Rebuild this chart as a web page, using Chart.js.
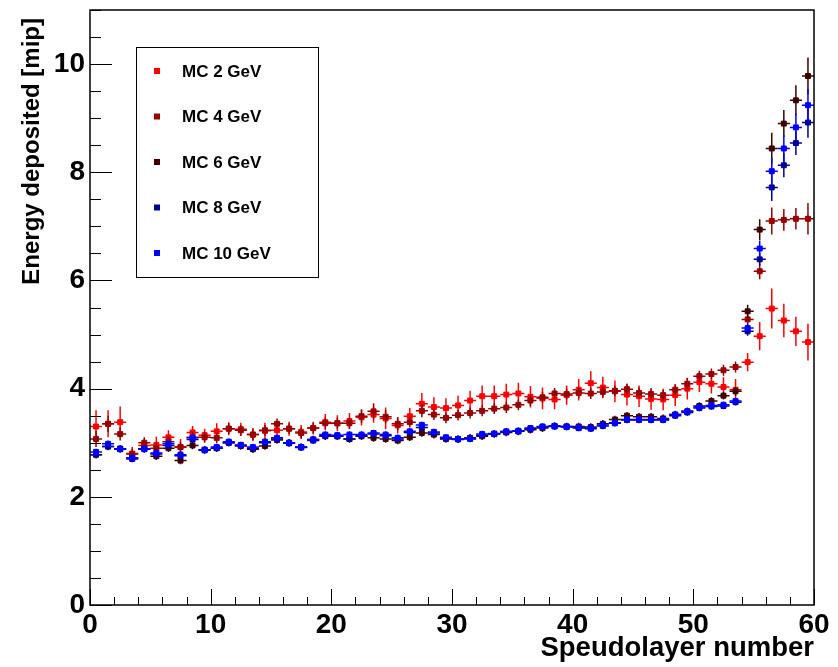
<!DOCTYPE html>
<html>
<head>
<meta charset="utf-8">
<script src="https://cdn.jsdelivr.net/npm/chart.js@4.4.1/dist/chart.umd.min.js"></script>
<style>
  html, body { margin: 0; padding: 0; background: #fff; }
</style>
</head>
<body>
<canvas id="grafico" width="838" height="667"></canvas>
<script>
// centros das camadas (bins de largura 1)
const layers = [0.5, 1.5, 2.5, 3.5, 4.5, 5.5, 6.5, 7.5, 8.5, 9.5,
  10.5, 11.5, 12.5, 13.5, 14.5, 15.5, 16.5, 17.5, 18.5, 19.5,
  20.5, 21.5, 22.5, 23.5, 24.5, 25.5, 26.5, 27.5, 28.5, 29.5,
  30.5, 31.5, 32.5, 33.5, 34.5, 35.5, 36.5, 37.5, 38.5, 39.5,
  40.5, 41.5, 42.5, 43.5, 44.5, 45.5, 46.5, 47.5, 48.5, 49.5,
  50.5, 51.5, 52.5, 53.5, 54.5, 55.5, 56.5, 57.5, 58.5, 59.5];

const seriesNames = ['MC 2 GeV', 'MC 4 GeV', 'MC 6 GeV', 'MC 8 GeV', 'MC 10 GeV'];
const seriesColors = ['#ff0000', '#990000', '#400000', '#000099', '#0000ff'];

const mc2 = [3.30, 3.35, 3.38, 2.80, 2.95, 2.96, 3.10, 2.92, 3.19, 3.14,
  3.21, 3.26, 3.25, 3.15, 3.22, 3.23, 3.26, 3.20, 3.27, 3.38,
  3.36, 3.40, 3.47, 3.52, 3.45, 3.32, 3.49, 3.72, 3.66, 3.64,
  3.69, 3.78, 3.86, 3.86, 3.89, 3.91, 3.85, 3.82, 3.80, 3.88,
  3.98, 4.10, 4.02, 3.95, 3.89, 3.86, 3.81, 3.80, 3.88, 4.00,
  4.12, 4.09, 4.03, 3.98, 4.49, 4.97, 5.48, 5.26, 5.06, 4.86];
const mc4 = [3.07, 3.35, 3.16, 2.79, 3.00, 2.90, 3.02, 2.92, 3.10, 3.10,
  3.09, 3.26, 3.23, 3.15, 3.23, 3.35, 3.26, 3.18, 3.27, 3.36,
  3.36, 3.36, 3.49, 3.58, 3.48, 3.35, 3.38, 3.59, 3.52, 3.46,
  3.51, 3.55, 3.59, 3.63, 3.65, 3.70, 3.78, 3.84, 3.91, 3.90,
  3.92, 3.91, 3.94, 3.96, 3.99, 3.92, 3.90, 3.88, 3.98, 4.09,
  4.23, 4.27, 4.34, 4.40, 5.28, 6.17, 7.10, 7.12, 7.14, 7.14];
const mc6 = [2.78, 2.93, 2.89, 2.72, 2.89, 2.75, 2.90, 2.67, 2.95, 2.87,
  2.90, 3.00, 2.94, 2.88, 2.94, 3.05, 3.00, 2.92, 3.06, 3.12,
  3.12, 3.07, 3.12, 3.09, 3.07, 3.04, 3.10, 3.18, 3.15, 3.07,
  3.07, 3.09, 3.12, 3.16, 3.19, 3.21, 3.24, 3.27, 3.31, 3.30,
  3.30, 3.29, 3.35, 3.43, 3.50, 3.48, 3.48, 3.45, 3.52, 3.58,
  3.68, 3.77, 3.87, 3.95, 5.43, 6.94, 8.44, 8.90, 9.33, 9.78];
const mc8 = [2.78, 2.93, 2.88, 2.70, 2.88, 2.79, 2.95, 2.76, 3.06, 2.86,
  2.90, 3.00, 2.95, 2.90, 3.00, 3.07, 2.99, 2.91, 3.04, 3.13,
  3.12, 3.07, 3.13, 3.16, 3.13, 3.07, 3.19, 3.28, 3.18, 3.08,
  3.06, 3.07, 3.14, 3.16, 3.20, 3.21, 3.26, 3.29, 3.30, 3.29,
  3.27, 3.26, 3.31, 3.36, 3.42, 3.42, 3.42, 3.42, 3.50, 3.56,
  3.64, 3.67, 3.68, 3.75, 5.06, 6.39, 7.72, 8.13, 8.54, 8.92];
const mc10 = [2.83, 2.98, 2.89, 2.72, 2.89, 2.81, 2.98, 2.78, 3.09, 2.87,
  2.92, 3.02, 2.96, 2.92, 3.02, 3.09, 3.00, 2.92, 3.06, 3.15,
  3.14, 3.15, 3.15, 3.18, 3.15, 3.09, 3.21, 3.33, 3.20, 3.10,
  3.07, 3.08, 3.16, 3.17, 3.21, 3.22, 3.27, 3.30, 3.31, 3.30,
  3.28, 3.27, 3.33, 3.37, 3.43, 3.43, 3.43, 3.43, 3.52, 3.58,
  3.66, 3.69, 3.70, 3.77, 5.12, 6.59, 8.02, 8.44, 8.83, 9.24];

// erros (metade da barra vertical)
const err2 = [0.30, 0.25, 0.29, 0.12, 0.12, 0.15, 0.13, 0.15, 0.12, 0.12,
  0.15, 0.12, 0.12, 0.12, 0.15, 0.13, 0.13, 0.13, 0.12, 0.15,
  0.15, 0.15, 0.15, 0.15, 0.20, 0.15, 0.15, 0.20, 0.18, 0.18,
  0.18, 0.18, 0.20, 0.20, 0.20, 0.20, 0.20, 0.20, 0.18, 0.18,
  0.20, 0.22, 0.20, 0.20, 0.20, 0.20, 0.20, 0.20, 0.20, 0.20,
  0.18, 0.18, 0.18, 0.20, 0.17, 0.26, 0.37, 0.31, 0.27, 0.34];
const err4 = [0.15, 0.15, 0.12, 0.10, 0.10, 0.10, 0.10, 0.10, 0.10, 0.10,
  0.10, 0.10, 0.10, 0.10, 0.10, 0.10, 0.10, 0.10, 0.10, 0.10,
  0.10, 0.10, 0.12, 0.15, 0.12, 0.12, 0.10, 0.12, 0.10, 0.10,
  0.10, 0.10, 0.10, 0.10, 0.10, 0.10, 0.10, 0.10, 0.10, 0.10,
  0.10, 0.10, 0.10, 0.10, 0.10, 0.10, 0.10, 0.10, 0.10, 0.10,
  0.10, 0.10, 0.10, 0.10, 0.10, 0.15, 0.25, 0.20, 0.20, 0.29];
const err6 = [0.07, 0.07, 0.07, 0.07, 0.07, 0.07, 0.07, 0.07, 0.07, 0.07,
  0.07, 0.07, 0.07, 0.07, 0.07, 0.07, 0.07, 0.07, 0.07, 0.07,
  0.07, 0.07, 0.07, 0.07, 0.07, 0.07, 0.07, 0.07, 0.07, 0.07,
  0.07, 0.07, 0.07, 0.07, 0.07, 0.07, 0.07, 0.07, 0.07, 0.07,
  0.07, 0.07, 0.07, 0.07, 0.07, 0.07, 0.07, 0.07, 0.07, 0.07,
  0.07, 0.07, 0.07, 0.08, 0.12, 0.19, 0.29, 0.25, 0.28, 0.34];
const err8 = [0.06, 0.06, 0.06, 0.06, 0.06, 0.06, 0.06, 0.06, 0.06, 0.06,
  0.06, 0.06, 0.06, 0.06, 0.06, 0.06, 0.06, 0.06, 0.06, 0.06,
  0.06, 0.06, 0.06, 0.06, 0.06, 0.06, 0.06, 0.06, 0.06, 0.06,
  0.06, 0.06, 0.06, 0.06, 0.06, 0.06, 0.06, 0.06, 0.06, 0.06,
  0.06, 0.06, 0.06, 0.06, 0.06, 0.06, 0.06, 0.06, 0.06, 0.06,
  0.06, 0.06, 0.06, 0.06, 0.08, 0.12, 0.25, 0.22, 0.22, 0.28];
const err10 = [0.06, 0.06, 0.06, 0.06, 0.06, 0.06, 0.06, 0.06, 0.06, 0.06,
  0.06, 0.06, 0.06, 0.06, 0.06, 0.06, 0.06, 0.06, 0.06, 0.06,
  0.06, 0.06, 0.06, 0.06, 0.06, 0.06, 0.06, 0.06, 0.06, 0.06,
  0.06, 0.06, 0.06, 0.06, 0.06, 0.06, 0.06, 0.06, 0.06, 0.06,
  0.06, 0.06, 0.06, 0.06, 0.06, 0.06, 0.06, 0.06, 0.06, 0.06,
  0.06, 0.06, 0.06, 0.06, 0.08, 0.15, 0.25, 0.25, 0.25, 0.30];

const xTicks = [0, 10, 20, 30, 40, 50, 60];
const yTicks = [0, 2, 4, 6, 8, 10];
const yTitle = 'Energy deposited [mip]';

const allValues = [mc2, mc4, mc6, mc8, mc10];
const allErrors = [err2, err4, err6, err8, err10];

const FONT = "'Liberation Sans', Arial, Helvetica, sans-serif";

// barras de erro desenhadas antes dos marcadores de cada serie
const errorBars = {
  id: 'errorBars',
  beforeDatasetDraw(chart, args) {
    const ds = chart.data.datasets[args.index];
    const xs = chart.scales.x;
    const ys = chart.scales.y;
    const ctx = chart.ctx;
    ctx.save();
    ctx.strokeStyle = ds.borderColor;
    ctx.lineWidth = 1.5;
    ctx.beginPath();
    ds.data.forEach((p, i) => {
      const e = ds.errors[i];
      const px = xs.getPixelForValue(p.x);
      const py = ys.getPixelForValue(p.y);
      ctx.moveTo(px, ys.getPixelForValue(p.y - e));
      ctx.lineTo(px, ys.getPixelForValue(p.y + e));
      ctx.moveTo(xs.getPixelForValue(p.x - 0.5), py);
      ctx.lineTo(xs.getPixelForValue(p.x + 0.5), py);
    });
    ctx.stroke();
    ctx.restore();
  }
};

// moldura e ticks para dentro, estilo ROOT
const frame = {
  id: 'frame',
  afterDatasetsDraw(chart) {
    const { ctx, chartArea: a } = chart;
    const xs = chart.scales.x;
    const ys = chart.scales.y;
    ctx.save();
    ctx.strokeStyle = '#000';
    ctx.lineWidth = 1.5;
    ctx.strokeRect(a.left, a.top, a.right - a.left, a.bottom - a.top);
    ctx.lineWidth = 1;
    ctx.beginPath();
    for (let v = 0; v <= 60; v += 2) {
      const px = Math.round(xs.getPixelForValue(v)) + 0.5;
      const len = v % 10 === 0 ? 16 : 8;
      ctx.moveTo(px, a.bottom);
      ctx.lineTo(px, a.bottom - len);
    }
    for (let v = 0; v <= 11; v += 0.5) {
      const py = Math.round(ys.getPixelForValue(v)) + 0.5;
      const len = v % 2 === 0 ? 22 : 11;
      ctx.moveTo(a.left, py);
      ctx.lineTo(a.left + len, py);
    }
    ctx.stroke();

    // titulo do eixo y, alinhado no topo como no ROOT
    ctx.fillStyle = '#000';
    ctx.font = `bold 24px ${FONT}`;
    ctx.textAlign = 'right';
    ctx.textBaseline = 'middle';
    ctx.translate(32, a.top + 8);
    ctx.rotate(-Math.PI / 2);
    ctx.fillText(yTitle, 0, 0);
    ctx.restore();
  }
};

const legendBox = {
  id: 'legendBox',
  afterDraw(chart) {
    const ctx = chart.ctx;
    ctx.save();
    ctx.strokeStyle = '#000';
    ctx.lineWidth = 1;
    ctx.strokeRect(136.5, 47.5, 182, 230);
    ctx.font = `bold 17px ${FONT}`;
    ctx.textBaseline = 'middle';
    seriesNames.forEach((nome, i) => {
      const y = 71 + i * 45.5;
      ctx.fillStyle = seriesColors[i];
      ctx.fillRect(154, y - 3, 6, 6);
      ctx.fillStyle = '#000';
      ctx.fillText(nome, 182, y + 1);
    });
    ctx.restore();
  }
};

const datasets = seriesNames.map((nome, i) => ({
  label: nome,
  data: layers.map((x, j) => ({ x, y: allValues[i][j] })),
  errors: allErrors[i],
  borderColor: seriesColors[i],
  backgroundColor: seriesColors[i],
  pointStyle: 'rect',
  pointRadius: 3.5,
  pointBorderWidth: 1,
  showLine: false,
  order: 5 - i
}));

const ctx = document.getElementById('grafico').getContext('2d');
new Chart(ctx, {
  type: 'scatter',
  data: { datasets },
  options: {
    responsive: false,
    animation: false,
    devicePixelRatio: 1,
    layout: { padding: { top: 10, right: 24, left: 0, bottom: 0 } },
    plugins: {
      legend: { display: false },
      tooltip: { enabled: false }
    },
    scales: {
      x: {
        type: 'linear',
        min: 0,
        max: 60,
        afterBuildTicks: s => { s.ticks = xTicks.map(v => ({ value: v })); },
        afterFit: s => { s.height = 62; s.paddingLeft = 0; s.paddingRight = 0; },
        grid: { display: false, drawTicks: false },
        border: { display: false },
        ticks: {
          color: '#000',
          padding: 3,
          maxRotation: 0,
          autoSkip: false,
          font: { family: FONT, size: 28, weight: 'bold' }
        },
        title: {
          display: true,
          text: 'Speudolayer number',
          align: 'end',
          color: '#000',
          font: { family: FONT, size: 27.5, weight: 'bold' },
          padding: { top: 0, bottom: 2 }
        }
      },
      y: {
        type: 'linear',
        min: 0,
        max: 11,
        afterBuildTicks: s => { s.ticks = yTicks.map(v => ({ value: v })); },
        afterFit: s => { s.width = 90; s.paddingTop = 0; s.paddingBottom = 0; },
        grid: { display: false, drawTicks: false },
        border: { display: false },
        ticks: {
          color: '#000',
          padding: 5,
          font: { family: FONT, size: 28, weight: 'bold' }
        },
        title: { display: false }
      }
    }
  },
  plugins: [errorBars, frame, legendBox]
});
</script>
</body>
</html>
